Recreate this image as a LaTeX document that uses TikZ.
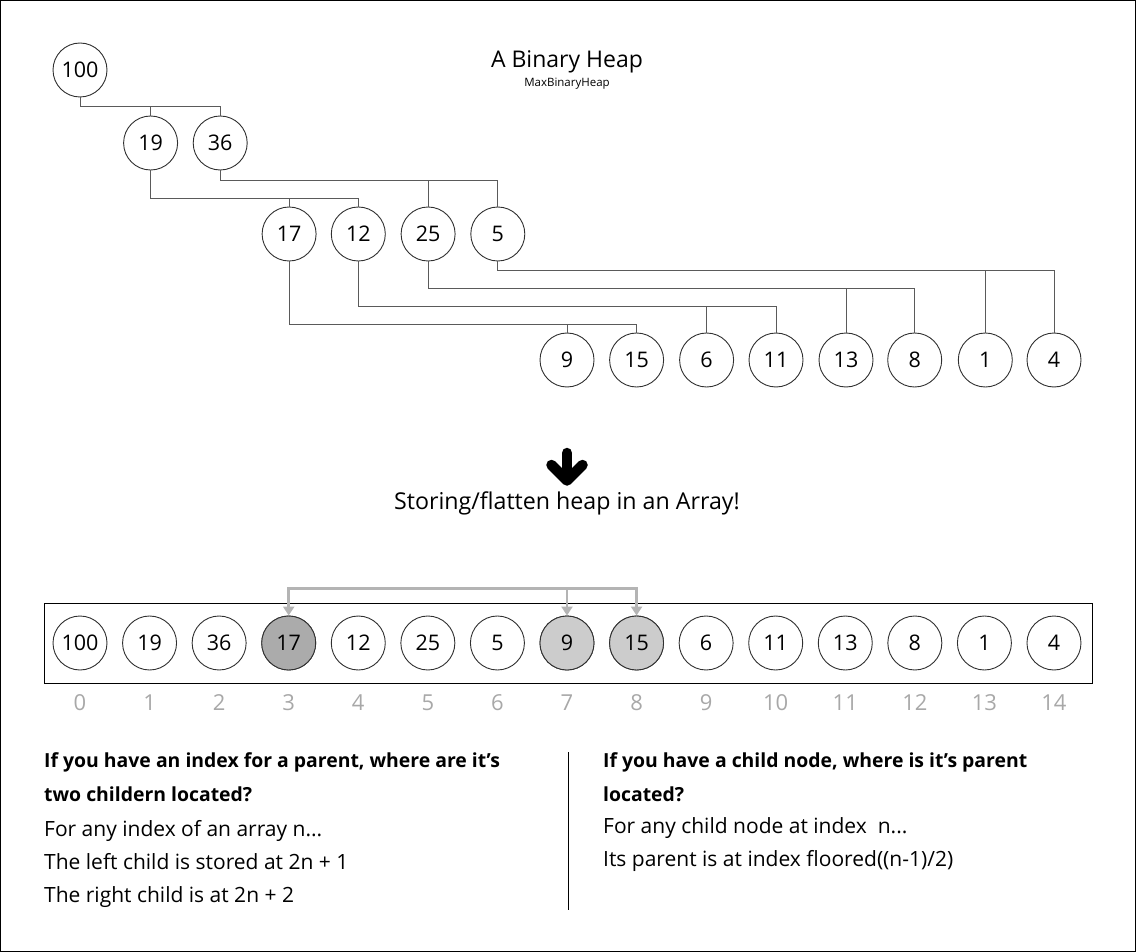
\documentclass[tikz,border=0pt]{standalone}
\usepackage{fontspec}
\setmainfont{Open Sans}
\usetikzlibrary{arrows.meta,calc}
\definecolor{linegray}{HTML}{5A5A5A}
\definecolor{ringgray}{HTML}{303030}
\definecolor{idxgray}{HTML}{A8A8A8}
\definecolor{arrgray}{HTML}{B4B4B4}
\definecolor{darkfill}{HTML}{ABABAB}
\definecolor{lightfill}{HTML}{CCCCCC}
\begin{document}
\begin{tikzpicture}[x=1pt,y=-1pt,
  hnode/.style={circle,draw=ringgray,line width=0.9pt,minimum size=54pt,inner sep=0pt,font=\fontsize{21.5}{25}\selectfont},
  conn/.style={draw=linegray,line width=1pt},
  idx/.style={text=idxgray,font=\fontsize{22}{26}\selectfont,inner sep=0pt},
  garrow/.style={draw=arrgray,line width=2.6pt,{Triangle[length=9pt,width=11pt]}-{Triangle[length=9pt,width=11pt]}},
  gdrop/.style={draw=arrgray,line width=2.6pt,-{Triangle[length=9pt,width=11pt]}},
  bodytxt/.style={anchor=base west,inner sep=0pt,font=\fontsize{21}{25}\selectfont},
  boldtxt/.style={anchor=base west,inner sep=0pt,font=\fontsize{19.4}{23}\selectfont\bfseries}]
\useasboundingbox (0,0) rectangle (1136,952);
\draw[black,line width=1pt] (0.5,0.5) rectangle (1135.5,951.5);

% title
\node[inner sep=0pt,font=\fontsize{23}{27}\selectfont] (title) at (567,62) {A Binary Heap};
\node[inner sep=0pt,font=\fontsize{11.5}{13}\selectfont] (subtitle) at (567,84) {MaxBinaryHeap};

% tree
\node[hnode] (n0) at (80,70) {100};
\node[hnode] (n1) at (150.6,143) {19};
\node[hnode] (n2) at (220.2,143) {36};
\node[hnode] (n3) at (289.1,234) {17};
\node[hnode] (n4) at (358.3,234) {12};
\node[hnode] (n5) at (428.1,234) {25};
\node[hnode] (n6) at (497.8,234) {5};
\node[hnode] (n7) at (567,360) {9};
\node[hnode] (n8) at (636.6,360) {15};
\node[hnode] (n9) at (706.6,360) {6};
\node[hnode] (n10) at (776,360) {11};
\node[hnode] (n11) at (846,360) {13};
\node[hnode] (n12) at (914.7,360) {8};
\node[hnode] (n13) at (985.3,360) {1};
\node[hnode] (n14) at (1054,360) {4};

\draw[conn] (n0.south) -- ++(0,9.5) coordinate (b0) -| (n2.north);
\draw[conn] (n1.north) -- (n1.north |- b0);
\draw[conn] (n1.south) -- ++(0,28) coordinate (b1) -| (n4.north);
\draw[conn] (n3.north) -- (n3.north |- b1);
\draw[conn] (n2.south) -- ++(0,10) coordinate (b2) -| (n6.north);
\draw[conn] (n5.north) -- (n5.north |- b2);
\draw[conn] (n6.south) -- ++(0,9.5) coordinate (b6) -| (n14.north);
\draw[conn] (n13.north) -- (n13.north |- b6);
\draw[conn] (n5.south) -- ++(0,27.5) coordinate (b5) -| (n12.north);
\draw[conn] (n11.north) -- (n11.north |- b5);
\draw[conn] (n4.south) -- ++(0,45.5) coordinate (b4) -| (n10.north);
\draw[conn] (n9.north) -- (n9.north |- b4);
\draw[conn] (n3.south) -- ++(0,63.5) coordinate (b3) -| (n8.north);
\draw[conn] (n7.north) -- (n7.north |- b3);

% big arrow
\draw[black,line width=10.5pt,line cap=round] (567,453) -- (567,477);
\draw[black,line width=10.5pt,line cap=round,line join=round] (551.5,465) -- (567,480.5) -- (582.5,465);
\node[inner sep=0pt,font=\fontsize{23.2}{27}\selectfont] (caption) at (567,503) {Storing/flatten heap in an Array!};

% array
\draw[black,line width=1pt] (44,603) rectangle (1092,683);
\foreach \v [count=\j from 0] in {100,19,36,17,12,25,5,9,15,6,11,13,8,1,4} {
  \node[hnode,fill=white] (a\j) at ({80+69.57*\j},643) {\v};
  \node[idx] (i\j) at ({80+69.57*\j},703) {\j};
}
\node[hnode,fill=darkfill] at (a3) {17};
\node[hnode,fill=lightfill] at (a7) {9};
\node[hnode,fill=lightfill] at (a8) {15};
\draw[garrow] (a3.north) -- ++(0,-27) coordinate (g) -| (a8.north);
\draw[gdrop] (a7.north |- g) -- (a7.north);

% text
\node[boldtxt] (l1) at (44,767) {If you have an index for a parent, where are it’s};
\node[boldtxt] (l2) at (44,801) {two childern located?};
\node[bodytxt] (l3) at (44,836) {For any index of an array n...};
\node[bodytxt] (l4) at (44,869) {The left child is stored at 2n + 1};
\node[bodytxt] (l5) at (44,902) {The right child is at 2n + 2};
\draw[black,line width=1pt] (568,752) coordinate (d1) -- (568,910) coordinate (d2);
\node[boldtxt] (r1) at (603,767) {If you have a child node, where is it’s parent};
\node[boldtxt] (r2) at (603,801) {located?};
\node[bodytxt] (r3) at (603,833) {For any child node at index \ n...};
\node[bodytxt] (r4) at (603,866) {Its parent is at index floored((n-1)/2)};
\end{tikzpicture}
\end{document}
